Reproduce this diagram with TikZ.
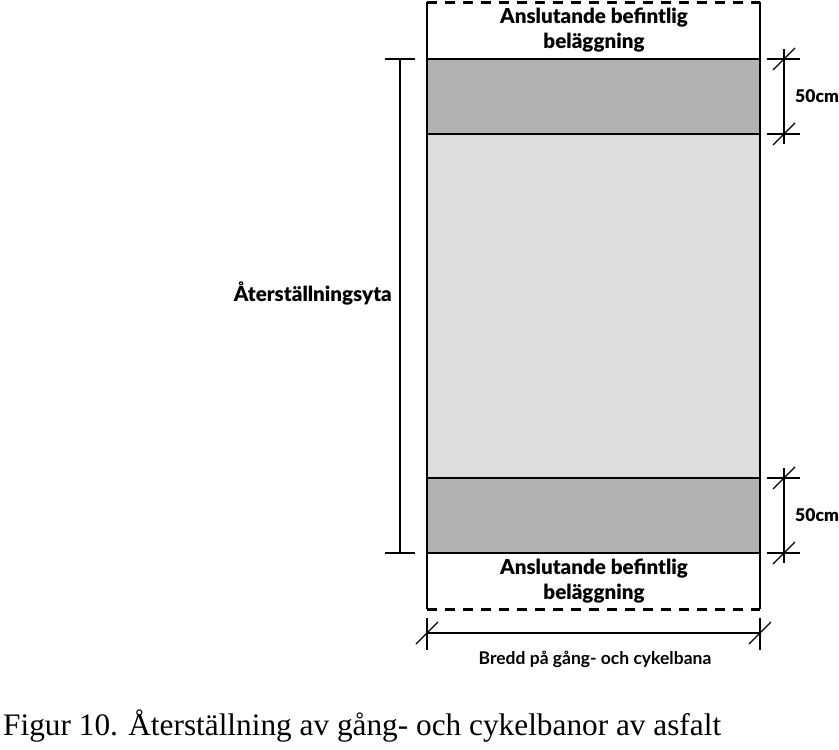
\documentclass[tikz,border=0pt]{standalone}
\usepackage{fontspec}
\setmainfont{Liberation Serif}
\newfontfamily\tagfont{Lato Black}
\newfontfamily\notefont{Lato}
\definecolor{bandgray}{HTML}{B1B2B4}
\definecolor{fillgray}{HTML}{DCDDDF}
\tikzset{
    edge/.style={line width=2pt, black},
    cut/.style={line width=3pt, black, dash pattern=on 10pt off 8pt},
    dim/.style={line width=1.3pt, black},
    tag/.style={font=\tagfont\fontsize{20.6}{25}\selectfont, align=center, inner sep=0pt},
}
\begin{document}
\begin{tikzpicture}[x=1pt, y=-1pt]
    \useasboundingbox (0,0) rectangle (839,750);
    \def\l{427}
    \def\r{760}

    % bands
    \fill [bandgray] (\l,59)  rectangle (\r,134);
    \fill [fillgray] (\l,134) rectangle (\r,478);
    \fill [bandgray] (\l,478) rectangle (\r,553);

    \coordinate (tl) at (\l,2);   \coordinate (tr) at (\r,2);
    \coordinate (bl) at (\l,609); \coordinate (br) at (\r,609);

    \draw [edge] (tl) -- (bl);
    \draw [edge] (tr) -- (br);
    \foreach \y in {59,134,478,553}
        \draw [edge] (\l,\y) -- (\r,\y);
    \draw [cut] (tl) -- (tr);
    \draw [cut] (bl) -- (br);

    \node[tag] (top) at (594,30)  {Anslutande befintlig\\beläggning};
    \node[tag] (bot) at (594,581) {Anslutande befintlig\\beläggning};

    % left dimension
    \coordinate (a1) at (400,59);
    \coordinate (a2) at (400,553);
    \draw [dim] (a1) -- (a2);
    \draw [dim] ([xshift=-15pt]a1) -- ([xshift=15pt]a1);
    \draw [dim] ([xshift=-15pt]a2) -- ([xshift=15pt]a2);
    \node[tag, anchor=east] (area) at (392,293) {Återställningsyta};

    % right dimensions
    \foreach \ya/\yb/\n in {59/134/1, 478/553/2} {
        \coordinate (d\n a) at (784,\ya);
        \coordinate (d\n b) at (784,\yb);
        \draw [dim] (767,\ya) -- (800,\ya);
        \draw [dim] (767,\yb) -- (800,\yb);
        \draw [dim] ([yshift=10pt]d\n a) -- ([yshift=-10pt]d\n b);
        \draw [dim] ([shift={(-11,11)}]d\n a) -- ([shift={(11,-11)}]d\n a);
        \draw [dim] ([shift={(-11,11)}]d\n b) -- ([shift={(11,-11)}]d\n b);
        \node[tag, anchor=west, font=\tagfont\fontsize{17.5}{20}\selectfont] (cm\n) at (795,{(\ya+\yb)/2}) {50cm};
    }

    % bottom dimension
    \coordinate (w1) at (\l,633);
    \coordinate (w2) at (\r,633);
    \draw [dim] (\l,618) -- (\l,650);
    \draw [dim] (\r,618) -- (\r,650);
    \draw [dim] (w1) -- (w2);
    \draw [dim] ([shift={(-11,11)}]w1) -- ([shift={(11,-11)}]w1);
    \draw [dim] ([shift={(-11,11)}]w2) -- ([shift={(11,-11)}]w2);
    \node[tag, font=\notefont\bfseries\fontsize{17.5}{20}\selectfont] (width) at (595,659) {Bredd på gång- och cykelbana};

    \node[anchor=base west, inner sep=0pt, font=\fontsize{31.3}{36}\selectfont] (caption) at (3,735)
        {Figur 10. Återställning av gång- och cykelbanor av asfalt};
\end{tikzpicture}
\end{document}
